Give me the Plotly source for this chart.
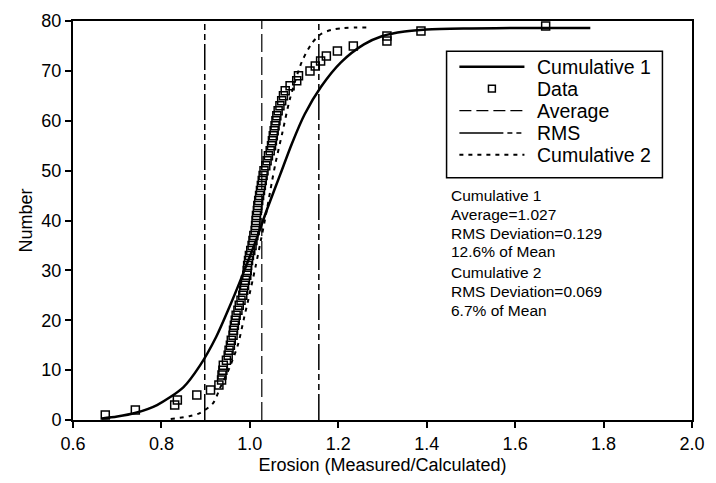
import plotly.graph_objects as go

# Measured/calculated erosion ratios, sorted, with their cumulative count
data_x = [0.673, 0.741, 0.830, 0.836, 0.880, 0.911, 0.930, 0.936, 0.937, 0.939,
          0.940, 0.947, 0.951, 0.953, 0.956, 0.958, 0.962, 0.963, 0.965, 0.967,
          0.969, 0.973, 0.976, 0.980, 0.984, 0.986, 0.988, 0.990, 0.993, 0.994,
          0.995, 0.997, 0.999, 1.002, 1.005, 1.007, 1.009, 1.012, 1.013, 1.014,
          1.015, 1.017, 1.018, 1.020, 1.022, 1.024, 1.026, 1.028, 1.030, 1.032,
          1.036, 1.039, 1.042, 1.046, 1.049, 1.051, 1.053, 1.055, 1.057, 1.059,
          1.061, 1.064, 1.068, 1.072, 1.076, 1.080, 1.091, 1.106, 1.110, 1.136,
          1.148, 1.160, 1.173, 1.198, 1.234, 1.310, 1.310, 1.387, 1.669]
data_n = [1, 2, 3, 4, 5, 6, 7, 8, 9, 10,
          11, 12, 13, 14, 15, 16, 17, 18, 19, 20,
          21, 22, 23, 24, 25, 26, 27, 28, 29, 30,
          31, 32, 33, 34, 35, 36, 37, 38, 39, 40,
          41, 42, 43, 44, 45, 46, 47, 48, 49, 50,
          51, 52, 53, 54, 55, 56, 57, 58, 59, 60,
          61, 62, 63, 64, 65, 66, 67, 68, 69, 70,
          71, 72, 73, 74, 75, 76, 77, 78, 79]

# Fitted cumulative curves
cum1_x = [0.665, 0.70, 0.74, 0.79, 0.85, 0.887, 0.924, 0.954, 0.98, 1.013,
          1.04, 1.069, 1.095, 1.124, 1.161, 1.206, 1.258, 1.30, 1.35, 1.40,
          1.50, 1.60, 1.77]
cum1_y = [0.3, 0.7, 1.4, 3.0, 6.6, 10.9, 16.7, 22.7, 28.3, 35.8,
          42.5, 49.3, 55.4, 61.3, 66.8, 71.7, 75.3, 77.0, 77.9, 78.3,
          78.5, 78.6, 78.6]
cum2_x = [0.821, 0.865, 0.887, 0.917, 0.932, 0.954, 0.973, 0.987, 1.000, 1.013,
          1.026, 1.039, 1.050, 1.058, 1.073, 1.091, 1.117, 1.140, 1.161, 1.184,
          1.213, 1.240, 1.269]
cum2_y = [0.2, 0.8, 1.4, 3.4, 6.3, 10.5, 15.1, 20.5, 25.5, 30.8,
          36.5, 42.4, 47.8, 51.5, 57.4, 64.5, 71.7, 75.5, 77.4, 78.2,
          78.6, 78.7, 78.7]

AVERAGE = 1.027
RMS_DEV = 0.129
Y_MAX = 80

legend_labels = ["Cumulative 1", "Data", "Average", "RMS", "Cumulative 2"]
stats_lines = ["Cumulative 1", "Average=1.027", "RMS Deviation=0.129", "12.6% of Mean",
               "Cumulative 2", "RMS Deviation=0.069", "6.7% of Mean"]

FONT = "Liberation Sans, Arial, Helvetica, sans-serif"
W, H = 716, 483
ML, MR, MT, MB = 73, 15, 11, 62

# line styles shared by the traces and the legend keys
STYLE_C1 = dict(color="black", width=2.5)
STYLE_AVG = dict(color="black", width=1.2, dash="18px,5px")
STYLE_RMS = dict(color="black", width=1.5, dash="26px,4px,6px,4px,6px,4px")
STYLE_C2 = dict(color="black", width=2, dash="4px,5px")


def px_x(p):
    return (p - ML) / (W - ML - MR)


def px_y(p):
    return (H - MB - p) / (H - MT - MB)


fig = go.Figure()
fig.add_trace(go.Scatter(x=cum1_x, y=cum1_y, mode="lines", name=legend_labels[0],
                         line=dict(**STYLE_C1, shape="spline", smoothing=0.8)))
fig.add_trace(go.Scatter(x=data_x, y=data_n, mode="markers", name=legend_labels[1],
                         marker=dict(symbol="square-open", size=8, color="black",
                                     line=dict(width=1.5, color="black"))))
fig.add_trace(go.Scatter(x=[AVERAGE, AVERAGE], y=[0, Y_MAX], mode="lines",
                         name=legend_labels[2], line=STYLE_AVG))
fig.add_trace(go.Scatter(x=[AVERAGE - RMS_DEV, AVERAGE - RMS_DEV, None,
                            AVERAGE + RMS_DEV, AVERAGE + RMS_DEV],
                         y=[0, Y_MAX, None, 0, Y_MAX], mode="lines",
                         name=legend_labels[3], line=STYLE_RMS))
fig.add_trace(go.Scatter(x=cum2_x, y=cum2_y, mode="lines", name=legend_labels[4],
                         line=dict(**STYLE_C2, shape="spline", smoothing=0.8)))

# boxed legend with long line keys
box_l, box_r, box_t, box_b = 452, 671, 42, 172
fig.add_shape(type="rect", xref="paper", yref="paper",
              x0=px_x(box_l), x1=px_x(box_r), y0=px_y(box_b), y1=px_y(box_t),
              line=dict(color="black", width=1.5), fillcolor="white", layer="above")
row_y = [58, 80.5, 103, 126, 148.5]
key_l, key_r, text_l = 465, 531, 544
key_styles = [dict(color="black", width=2.5), None,
              dict(color="black", width=1.2, dash="12px,5px"),
              dict(color="black", width=1.5, dash="44px,4px,5px,4px,5px,4px"),
              dict(color="black", width=2, dash="4px,5px")]
for lab, ry, st in zip(legend_labels, row_y, key_styles):
    if st is None:
        cx = 498
        fig.add_shape(type="rect", xref="paper", yref="paper",
                      x0=px_x(cx - 3.5), x1=px_x(cx + 3.5),
                      y0=px_y(ry + 3.5), y1=px_y(ry - 3.5),
                      line=dict(color="black", width=1.5), layer="above")
    else:
        fig.add_shape(type="line", xref="paper", yref="paper",
                      x0=px_x(key_l), x1=px_x(key_r), y0=px_y(ry), y1=px_y(ry),
                      line=st, layer="above")
    fig.add_annotation(x=px_x(text_l), y=px_y(ry), xref="paper", yref="paper",
                       text=lab, showarrow=False, xanchor="left", yanchor="middle",
                       xshift=-2, font=dict(size=19.5, color="black", family=FONT))

ys = [190, 210, 229, 248, 269, 289, 308]
for txt, yp in zip(stats_lines, ys):
    fig.add_annotation(x=px_x(456), y=px_y(yp), xref="paper", yref="paper",
                       text=txt, showarrow=False, xanchor="left", yanchor="middle",
                       xshift=-2, font=dict(size=15.5, color="black", family=FONT))

axis_common = dict(showline=True, linecolor="black", linewidth=2, mirror=True,
                   ticks="outside", ticklen=6, tickwidth=1.5, tickcolor="black",
                   showgrid=False, zeroline=False,
                   tickfont=dict(size=18, color="black", family=FONT))

fig.update_xaxes(range=[0.6, 2.0], dtick=0.2, tick0=0.6, tickformat=".1f",
                 title=dict(text="Erosion (Measured/Calculated)", standoff=6,
                            font=dict(size=18, color="black", family=FONT)),
                 **axis_common)
fig.update_yaxes(range=[0, Y_MAX], dtick=10,
                 title=dict(text="Number", standoff=4,
                            font=dict(size=18, color="black", family=FONT)),
                 **axis_common)

fig.update_layout(
    width=W, height=H,
    margin=dict(l=ML, r=MR, t=MT, b=MB),
    paper_bgcolor="white", plot_bgcolor="white",
    showlegend=False,
)

fig.write_html("out.html")
